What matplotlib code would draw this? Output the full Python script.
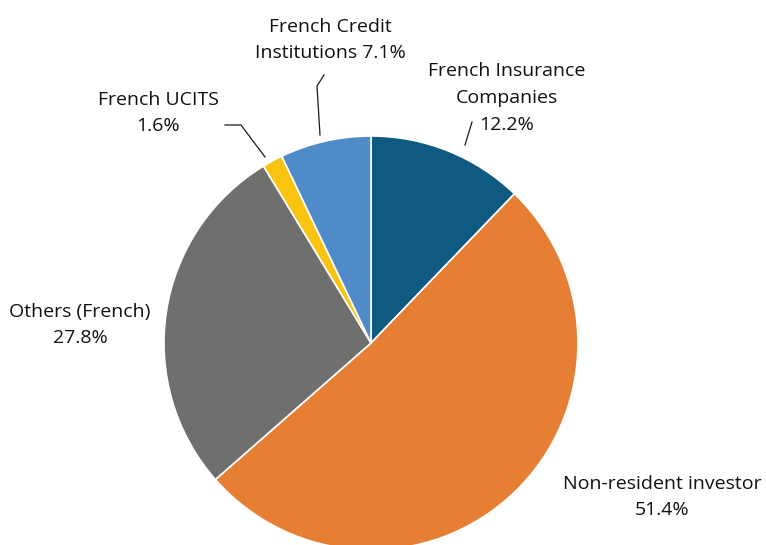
import numpy as np
import matplotlib
matplotlib.use("Agg")
import matplotlib.pyplot as plt

# slices clockwise from 12 o'clock
labels = ["French Insurance\nCompanies\n12.2%", "Non-resident investor\n51.4%",
          "Others (French)\n27.8%", "French UCITS\n1.6%",
          "French Credit\nInstitutions 7.1%"]
shares = [12.2, 51.4, 27.8, 1.6, 7.1]
colors = ["#0f5a80", "#e67f33", "#6f706e", "#f9c30f", "#4f8bc9"]

W, H = 766, 545
fig = plt.figure(figsize=(W / 100, H / 100), dpi=100)
ax = fig.add_axes([0, 0, 1, 1])

cx, cy, r = 371, H - 343, 207
wedges, _ = ax.pie(shares, colors=colors, startangle=90, counterclock=False,
                   center=(cx, cy), radius=r, frame=True,
                   wedgeprops=dict(edgecolor="white", linewidth=1.2))
ax.set_xlim(0, W)
ax.set_ylim(0, H)
ax.set_aspect("equal")
ax.axis("off")

font = dict(family="Open Sans", fontsize=14, color="#111111",
            ha="center", va="center", linespacing=1.62)

# label positions in pixels (x, y from top)
pos = [(507, 98), (662, 497), (80, 325), (158, 113), (330, 40)]
for lab, (x, y) in zip(labels, pos):
    ax.text(x, H - y, lab, **font)

def pt(x, y):
    return x, H - y

leaders = [
    [(465, 145), (472, 122)],
    [(320, 135), (317, 86), (324, 75)],
    [(265, 157), (241, 125), (225, 125)],
]
for seg in leaders:
    xs, ys = zip(*[pt(*p) for p in seg])
    ax.plot(xs, ys, color="#1a1a1a", lw=0.9)

fig.savefig("out.png", dpi=100)
